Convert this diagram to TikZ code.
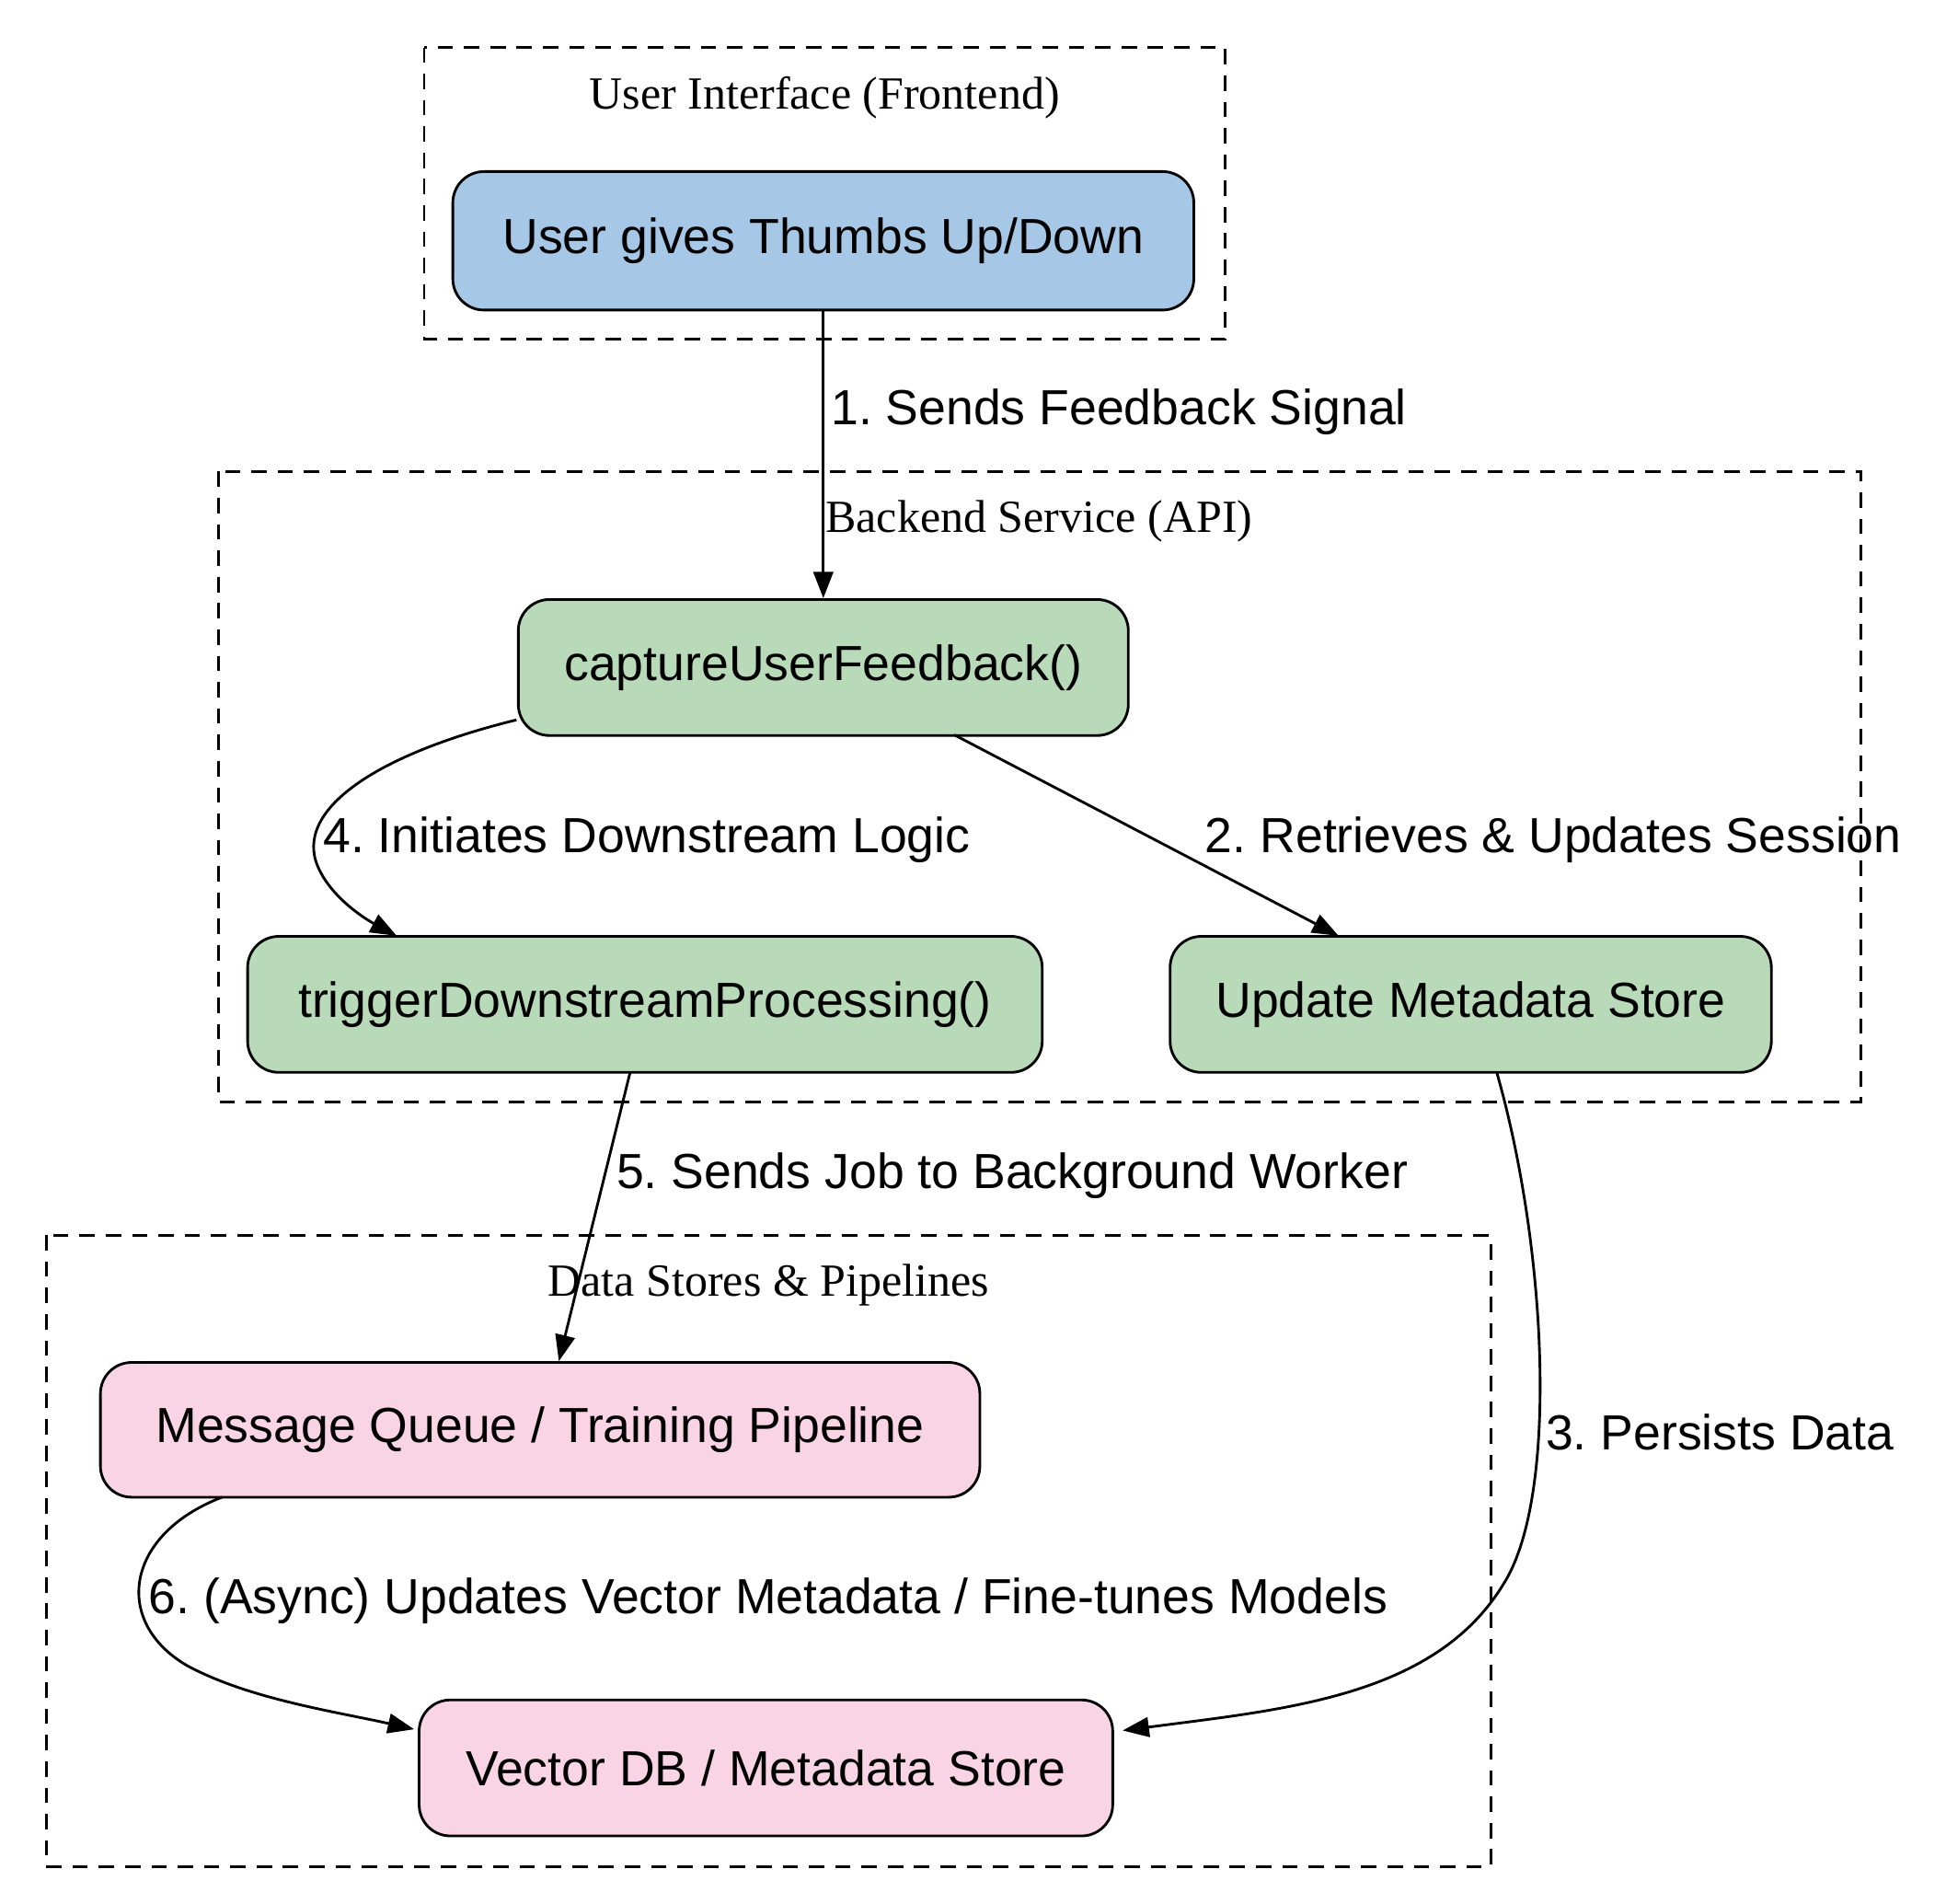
\documentclass[tikz,border=0pt]{standalone}
\usepackage{fontspec}
\setmainfont{Liberation Sans}
\newfontfamily\serifc{Liberation Serif}
\usetikzlibrary{arrows.meta}
\frenchspacing
\begin{document}
\begin{tikzpicture}[x=0.02cm,y=-0.02cm,
  box/.style={draw,line width=1.2pt,rounded corners=0.5cm,font=\fontsize{22.5}{26}\selectfont,inner sep=0pt},
  clus/.style={draw,line width=1.2pt,dash pattern=on 7pt off 5pt},
  clab/.style={font=\serifc\fontsize{21}{24}\selectfont},
  elab/.style={font=\fontsize{22.5}{26}\selectfont,anchor=west},
  arr/.style={line width=1.2pt,-{Triangle[length=12pt,width=9pt]}}]
\useasboundingbox (0,0) rectangle (1560,1526);
\definecolor{cb}{HTML}{A6C8E6}\definecolor{cg}{HTML}{B8DAB8}\definecolor{cp}{HTML}{F8D4E4}
\draw[clus] (340,38) rectangle (982,272);
\node[clab] (l1) at (661,78) {User Interface (Frontend)};
\draw[clus] (175,378) rectangle (1492,883);
\node[clab] (l2) at (833,418) {Backend Service (API)};
\draw[clus] (37,990) rectangle (1195,1496);
\node[clab] (l3) at (616,1030) {Data Stores \& Pipelines};
\node[box,fill=cb,minimum width=594*0.02cm,minimum height=111*0.02cm] (u) at (660,193) {User gives Thumbs Up/Down};
\node[box,fill=cg,minimum width=489*0.02cm,minimum height=109*0.02cm] (c) at (660,535) {captureUserFeedback()};
\node[box,fill=cg,minimum width=637*0.02cm,minimum height=109*0.02cm] (t) at (517,805) {triggerDownstreamProcessing()};
\node[box,fill=cg,minimum width=482*0.02cm,minimum height=109*0.02cm] (m) at (1179,805) {Update Metadata Store};
\node[box,fill=cp,minimum width=705*0.02cm,minimum height=108*0.02cm] (q) at (433,1146) {Message Queue / Training Pipeline};
\node[box,fill=cp,minimum width=556*0.02cm,minimum height=109*0.02cm] (v) at (614,1417) {Vector DB / Metadata Store};
\draw[arr] (u) -- (c);
\node[elab] (e1) at (660,330) {1. Sends Feedback Signal};
\draw[arr] (765,589) -- (1073,750);
\node[elab] (e2) at (960,673) {2. Retrieves \& Updates Session};
\draw[arr] (414,577) .. controls (300,605) and (235,650) .. (255,695) .. controls (265,718) and (290,735) .. (318,750);
\node[elab] (e4) at (253,673) {4. Initiates Downstream Logic};
\draw[arr] (505,860) -- (448,1091);
\node[elab] (e5) at (488,942) {5. Sends Job to Background Worker};
\draw[arr] (1200,860) .. controls (1240,1000) and (1250,1200) .. (1205,1270) .. controls (1150,1360) and (1030,1370) .. (900,1387);
\node[elab] (e3) at (1233,1148) {3. Persists Data};
\draw[arr] (178,1200) .. controls (100,1230) and (90,1300) .. (150,1335) .. controls (200,1362) and (270,1372) .. (332,1386);
\node[elab] (e6) at (113,1283) {6. (Async) Updates Vector Metadata / Fine-tunes Models};
\end{tikzpicture}
\end{document}
